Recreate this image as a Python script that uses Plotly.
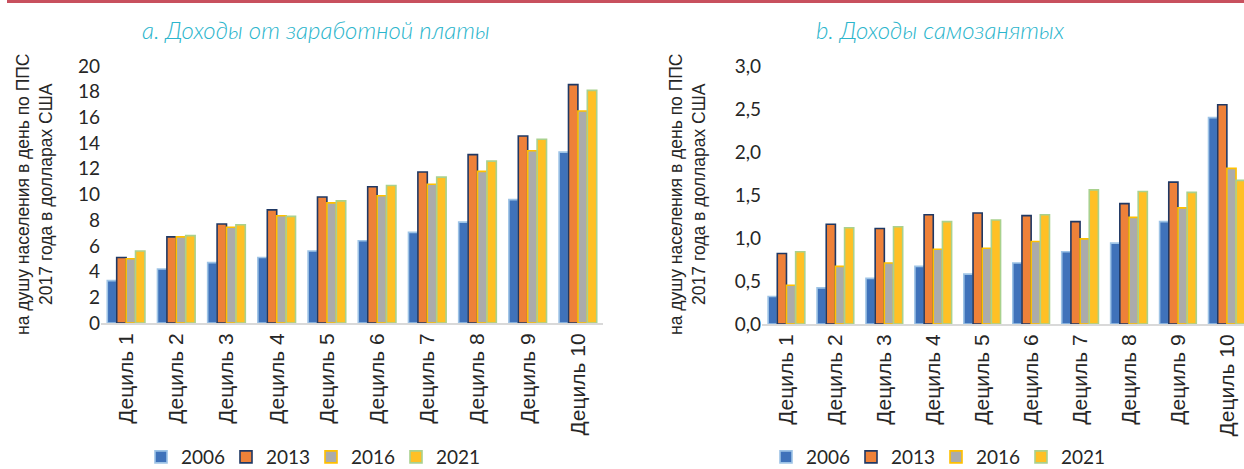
import plotly.graph_objects as go

categories = ["Дециль 1", "Дециль 2", "Дециль 3", "Дециль 4", "Дециль 5",
              "Дециль 6", "Дециль 7", "Дециль 8", "Дециль 9", "Дециль 10"]
years = ["2006", "2013", "2016", "2021"]

wage_2006 = [3.3, 4.2, 4.7, 5.1, 5.6, 6.4, 7.05, 7.85, 9.6, 13.3]
wage_2013 = [5.1, 6.7, 7.7, 8.8, 9.8, 10.6, 11.75, 13.1, 14.55, 18.55]
wage_2016 = [5.0, 6.7, 7.45, 8.35, 9.35, 9.9, 10.8, 11.8, 13.4, 16.5]
wage_2021 = [5.6, 6.8, 7.65, 8.3, 9.5, 10.7, 11.35, 12.6, 14.3, 18.1]

self_2006 = [0.32, 0.42, 0.53, 0.67, 0.58, 0.71, 0.84, 0.94, 1.19, 2.40]
self_2013 = [0.82, 1.16, 1.11, 1.27, 1.29, 1.26, 1.19, 1.40, 1.65, 2.55]
self_2016 = [0.45, 0.67, 0.71, 0.87, 0.88, 0.96, 0.99, 1.24, 1.35, 1.81]
self_2021 = [0.84, 1.12, 1.13, 1.19, 1.21, 1.27, 1.56, 1.54, 1.53, 1.67]

title_a = "a. Доходы от заработной платы"
title_b = "b. Доходы самозанятых"
y_title = "на душу населения в день по ППС<br>2017 года в долларах США"

fills = ["#3F72BA", "#EE8139", "#ABABAB", "#FFC025"]
outlines = ["#9DC3E6", "#1F3864", "#FFC000", "#A9D18E"]

wage = [wage_2006, wage_2013, wage_2016, wage_2021]
selfe = [self_2006, self_2013, self_2016, self_2021]

entry_w = [40, 40, 40, 48]

fig = go.Figure()
for i, yr in enumerate(years):
    fig.add_trace(go.Bar(
        x=categories, y=wage[i], name=yr, xaxis="x", yaxis="y",
        marker=dict(color=fills[i], line=dict(color=outlines[i], width=1.6)),
        legend="legend", legendwidth=entry_w[i], hoverinfo="x+y+name"))
for i, yr in enumerate(years):
    fig.add_trace(go.Bar(
        x=categories, y=selfe[i], name=yr, xaxis="x2", yaxis="y2",
        marker=dict(color=fills[i], line=dict(color=outlines[i], width=1.6)),
        legend="legend2", legendwidth=entry_w[i], hoverinfo="x+y+name"))

tick_font = dict(family="Lato", size=19, color="#262626")
cat_font = dict(family="Liberation Sans", size=21, color="#262626")
leg_font = dict(family="Lato", size=19, color="#262626")

W, H = 1244, 469
def px(x):
    return x / W
def py(y):
    return (H - y) / H

fig.update_layout(
    template="none",
    width=W, height=H,
    margin=dict(l=0, r=0, t=0, b=0, pad=0, autoexpand=False),
    paper_bgcolor="white", plot_bgcolor="white",
    barmode="group", bargap=0.25, bargroupgap=0,
    separators=", ",
    xaxis=dict(domain=[px(101), px(603)], anchor="y", type="category",
               tickangle=-90, tickfont=cat_font, showgrid=False,
               showline=True, linecolor="#D9D9D9", linewidth=2,
               ticks="", range=[-0.5, 9.5], automargin=False),
    yaxis=dict(domain=[py(323), py(66)], anchor="x", range=[0, 20],
               dtick=2, tickfont=tick_font, showgrid=False, zeroline=False,
               showline=False, ticks="", automargin=False),
    xaxis2=dict(domain=[px(762), 1.0], anchor="y2", type="category",
                tickangle=-90, tickfont=cat_font, showgrid=False,
                showline=True, linecolor="#D9D9D9", linewidth=2,
                ticks="", range=[-0.5, 9.35], automargin=False),
    yaxis2=dict(domain=[py(324), py(66)], anchor="x2", range=[0, 3.0],
                dtick=0.5, tickformat=".1f",
                tickfont=tick_font, showgrid=False, zeroline=False,
                showline=False, ticks="", automargin=False),
    legend=dict(orientation="h", x=px(315), y=py(457), xanchor="center",
                yanchor="middle", font=leg_font,
                itemwidth=30, bgcolor="rgba(0,0,0,0)", borderwidth=0),
    legend2=dict(orientation="h", x=px(940), y=py(457), xanchor="center",
                 yanchor="middle", font=leg_font,
                 itemwidth=30, bgcolor="rgba(0,0,0,0)", borderwidth=0),
    annotations=[
        dict(text="<i>" + title_a + "</i>", x=px(316), y=py(29), xref="paper", yref="paper",
             xanchor="center", yanchor="middle", showarrow=False,
             font=dict(family="Lato", size=24, color="#2BB5CC", weight=300)),
        dict(text="<i>" + title_b + "</i>", x=px(940), y=py(29), xref="paper", yref="paper",
             xanchor="center", yanchor="middle", showarrow=False,
             font=dict(family="Lato", size=24, color="#2BB5CC", weight=300)),
        dict(text=y_title, x=px(34), y=py(194), xref="paper", yref="paper",
             xanchor="center", yanchor="middle", showarrow=False, textangle=-90,
             font=dict(family="Liberation Sans", size=17.5, color="#262626")),
        dict(text=y_title, x=px(687), y=py(194), xref="paper", yref="paper",
             xanchor="center", yanchor="middle", showarrow=False, textangle=-90,
             font=dict(family="Liberation Sans", size=17.5, color="#262626")),
    ],
    shapes=[dict(type="line", xref="paper", yref="paper", x0=px(7), x1=1.0,
                 y0=py(1.5), y1=py(1.5), line=dict(color="#C8505E", width=3))],
)

fig.write_html("out.html", config={"displayModeBar": False},
               post_script="document.body.style.margin='0px';document.body.style.overflow='hidden';")
